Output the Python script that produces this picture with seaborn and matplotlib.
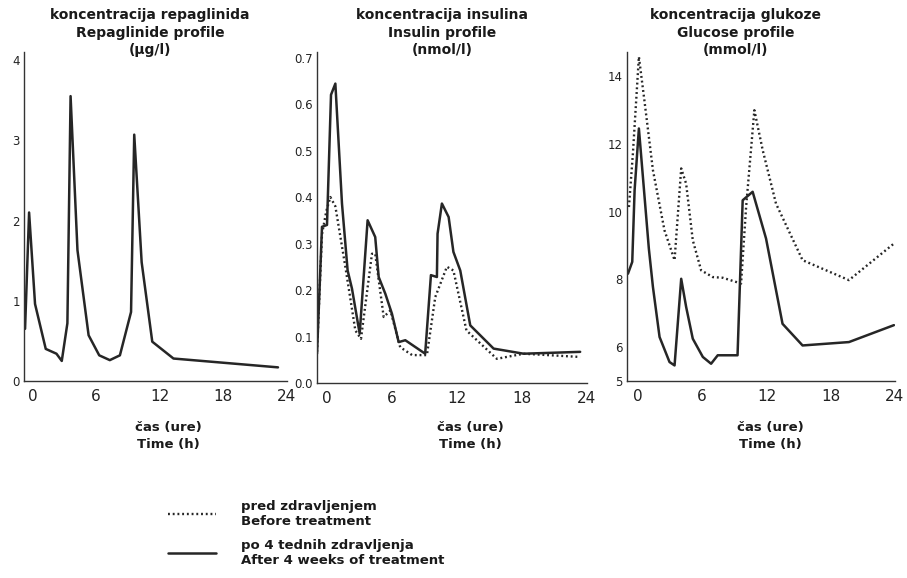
import numpy as np
import pandas as pd
import matplotlib
matplotlib.use("Agg")
import matplotlib.pyplot as plt
import seaborn as sns
from matplotlib.lines import Line2D

# ---------------- data ----------------
rep_t = [-0.69, -0.31, 0.25, 1.26, 2.27, 2.77, 3.3, 3.6, 4.25, 5.3, 6.3, 7.3, 8.25, 9.3, 9.6, 10.3, 11.3, 13.3, 23.15]
rep_v = [0.65, 2.1, 0.96, 0.40, 0.34, 0.25, 0.72, 3.55, 1.63, 0.57, 0.32, 0.26, 0.32, 0.86, 3.07, 1.48, 0.49, 0.28, 0.17]

ins_after_t = [-0.86, -0.4, 0.06, 0.43, 0.83, 1.44, 1.96, 2.36, 3.07, 3.8, 4.5, 4.82, 5.43, 6.04, 6.66, 7.27, 9.1, 9.63, 10.18, 10.24, 10.64, 11.26, 11.7, 12.33, 13.25, 15.4, 18.16, 23.37]
ins_after_v = [0.063, 0.336, 0.34, 0.62, 0.644, 0.386, 0.242, 0.203, 0.106, 0.35, 0.314, 0.228, 0.192, 0.149, 0.088, 0.092, 0.063, 0.232, 0.228, 0.321, 0.386, 0.357, 0.282, 0.242, 0.124, 0.074, 0.063, 0.067]
ins_before_t = [-0.86, -0.4, 0.0, 0.37, 0.83, 1.75, 2.67, 3.19, 4.2, 4.5, 5.28, 5.9, 6.8, 7.9, 9.26, 10.03, 11.1, 11.7, 12.9, 15.7, 18.16, 23.37]
ins_before_v = [0.067, 0.32, 0.37, 0.40, 0.38, 0.25, 0.113, 0.095, 0.278, 0.278, 0.142, 0.156, 0.077, 0.06, 0.06, 0.185, 0.25, 0.242, 0.113, 0.052, 0.063, 0.056]

glu_after_t = [-0.93, -0.53, -0.31, 0.09, 1.02, 1.4, 2.02, 2.95, 3.42, 4.04, 4.5, 5.12, 6.06, 6.83, 7.45, 9.3, 9.78, 10.71, 11.96, 13.5, 15.37, 19.7, 23.9]
glu_after_v = [8.17, 8.52, 10.64, 12.46, 8.91, 7.78, 6.3, 5.56, 5.46, 8.02, 7.19, 6.25, 5.71, 5.51, 5.76, 5.76, 10.34, 10.59, 9.21, 6.69, 6.05, 6.15, 6.65]
glu_before_t = [-0.84, -0.47, 0.09, 0.62, 1.4, 2.48, 3.42, 4.04, 4.5, 5.12, 5.9, 6.99, 7.92, 9.63, 10.1, 10.87, 11.65, 12.89, 15.37, 19.7, 23.9]
glu_before_v = [10.14, 11.72, 14.58, 13.25, 11.23, 9.45, 8.57, 11.28, 10.83, 9.16, 8.27, 8.07, 8.05, 7.88, 10.14, 13.0, 11.82, 10.24, 8.57, 7.98, 9.06]

titles = ["koncentracija repaglinida\nRepaglinide profile\n(\u00b5g/l)",
          "koncentracija insulina\nInsulin profile\n(nmol/l)",
          "koncentracija glukoze\nGlucose profile\n(mmol/l)"]
x_ticks = [0, 6, 12, 18, 24]
y_ticks_rep = [0, 1, 2, 3, 4]
y_ticks_ins = [0.0, 0.1, 0.2, 0.3, 0.4, 0.5, 0.6, 0.7]
y_ticks_glu = [5, 6, 8, 10, 12, 14]
xlabel_text = "\u010das (ure)\nTime (h)"
legend_labels = ["pred zdravljenjem\nBefore treatment", "po 4 tednih zdravljenja\nAfter 4 weeks of treatment"]

# ---------------- figure ----------------
sns.set_style("white")
plt.rcParams['font.family'] = ['DejaVu Sans']
W, H = 907, 578
fig = plt.figure(figsize=(W / 100, H / 100), dpi=100)
fig.patch.set_facecolor("white")

LC = "#262626"

def add_ax(left, right, bottom, top):
    return fig.add_axes([left / W, 1 - bottom / H, (right - left) / W, (bottom - top) / H])

ax1 = add_ax(24, 287, 381, 52)
ax2 = add_ax(317, 587, 383, 52)
ax3 = add_ax(627, 895, 381, 52)

sns.lineplot(x=rep_t, y=rep_v, ax=ax1, color=LC, lw=1.8, sort=False, estimator=None)
sns.lineplot(x=ins_before_t, y=ins_before_v, ax=ax2, color=LC, lw=1.7, linestyle=(0, (0.8, 1.2)), sort=False, estimator=None)
sns.lineplot(x=ins_after_t, y=ins_after_v, ax=ax2, color=LC, lw=1.8, sort=False, estimator=None)
sns.lineplot(x=glu_before_t, y=glu_before_v, ax=ax3, color=LC, lw=1.7, linestyle=(0, (0.8, 1.2)), sort=False, estimator=None)
sns.lineplot(x=glu_after_t, y=glu_after_v, ax=ax3, color=LC, lw=1.8, sort=False, estimator=None)

ax1.set_xlim(-0.79, 24.0); ax1.set_ylim(0, 4.1); ax1.set_yticks(y_ticks_rep)
ax1.set_yticklabels([str(v) for v in y_ticks_rep])
ax2.set_xlim(-0.86, 24.0); ax2.set_ylim(0, 0.712); ax2.set_yticks(y_ticks_ins)
ax2.set_yticklabels([f"{v:.1f}" for v in y_ticks_ins])
ax3.set_xlim(-1.02, 24.0); ax3.set_ylim(5, 14.72); ax3.set_yticks(y_ticks_glu)
ax3.set_yticklabels([str(v) for v in y_ticks_glu])

for ax in (ax1, ax2, ax3):
    ax.set_xticks(x_ticks)
    ax.set_xticklabels([str(v) for v in x_ticks])
    ax.set_facecolor("none")
    for s in ("top", "right"):
        ax.spines[s].set_visible(False)
    for s in ("left", "bottom"):
        ax.spines[s].set_color("#333333")
        ax.spines[s].set_linewidth(1.0)
    ax.tick_params(axis="x", length=0, pad=6, labelsize=11, colors="#222222")
    ax.tick_params(axis="y", length=0, pad=3, labelsize=8.5, colors="#222222")
    ax.set_xlabel(""); ax.set_ylabel("")

# titles
for cx, t in zip([150, 442, 736], titles):
    fig.text(cx / W, 1 - 8 / H, t, ha="center", va="top", fontsize=10,
             fontweight="bold", linespacing=1.33, color="#1a1a1a")

# x labels
for cx in [168, 470, 770]:
    fig.text(cx / W, 1 - 421 / H, xlabel_text, ha="center", va="top", fontsize=9.5,
             fontweight="bold", linespacing=1.38, color="#1a1a1a")

handles = [Line2D([], [], color=LC, lw=1.7, linestyle=(0, (0.8, 1.2))),
           Line2D([], [], color=LC, lw=1.8)]
fig.legend(handles, legend_labels, loc="upper left", bbox_to_anchor=(168 / W, 1 - 500 / H),
           frameon=False, borderpad=0, borderaxespad=0, handlelength=3.6,
           handletextpad=1.9, labelspacing=0.8,
           prop={"size": 9.5, "weight": "bold"}, labelcolor="#1a1a1a")

fig.savefig("out.png", dpi=100, facecolor="white")
